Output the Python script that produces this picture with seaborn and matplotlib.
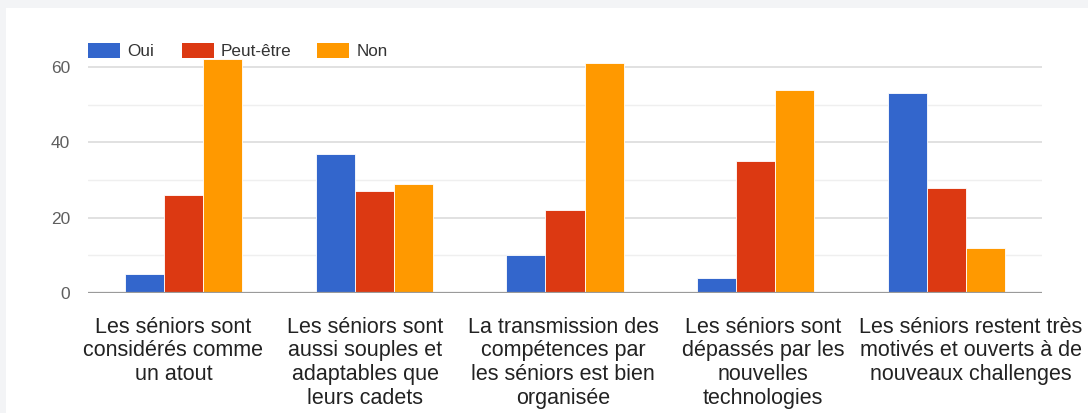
import numpy as np
import pandas as pd
import matplotlib
matplotlib.use("Agg")
import matplotlib.pyplot as plt
import matplotlib.transforms as mtransforms
import seaborn as sns
from matplotlib.patches import Rectangle

categories = [
    "Les séniors sont\nconsidérés comme\nun atout",
    "Les séniors sont\naussi souples et\nadaptables que\nleurs cadets",
    "La transmission des\ncompétences par\nles séniors est bien\norganisée",
    "Les séniors sont\ndépassés par les\nnouvelles\ntechnologies",
    "Les séniors restent très\nmotivés et ouverts à de\nnouveaux challenges",
]
series_names = ["Oui", "Peut-être", "Non"]
oui = [5, 37, 10, 4, 53]
peut_etre = [26, 27, 22, 35, 28]
non = [62, 29, 61, 54, 12]
colors = ["#3366cc", "#dc3912", "#ff9900"]
yticks = [0, 20, 40, 60]

rows = []
for name, vals in zip(series_names, [oui, peut_etre, non]):
    for c, v in zip(categories, vals):
        rows.append({"cat": c, "serie": name, "val": v})
df = pd.DataFrame(rows)

sns.set_theme(style="white")
plt.rcParams["font.family"] = ["Liberation Sans", "DejaVu Sans"]

W, H = 1088, 413
fig = plt.figure(figsize=(W / 100, H / 100), dpi=100)
fig.patch.set_facecolor("#f3f4f6")
fig.add_artist(Rectangle((6 / W, 0), 1 - 6 / W, (H - 8) / H, transform=fig.transFigure,
                         facecolor="white", edgecolor="none", zorder=0))

ax_left, ax_right = 88 / W, 1042 / W
y0_px = 293
px_per_unit = (293 - 67) / 60
ytop = 62.3
ax_bottom = (H - y0_px) / H
ax_height = ytop * px_per_unit / H
ax = fig.add_axes([ax_left, ax_bottom, ax_right - ax_left, ax_height])
ax.set_facecolor("none")

sns.barplot(data=df, x="cat", y="val", hue="serie", hue_order=series_names,
            palette=colors, width=0.615, saturation=1, ax=ax,
            edgecolor="white", linewidth=0.6, legend=False, zorder=3)

ax.set_ylim(0, ytop)
ax.set_xlim(-0.5, len(categories) - 0.5)
for v in [10, 30, 50]:
    ax.axhline(v, color="#efefef", linewidth=1.0, zorder=1)
for v in [20, 40, 60]:
    ax.axhline(v, color="#dcdcdc", linewidth=1.2, zorder=1)
ax.axhline(0, color="#9a9a9a", linewidth=1.6, zorder=4)

ax.set_yticks(yticks)
ax.set_yticklabels([str(t) for t in yticks], color="#5f5f5f", fontsize=12.5)
ax.tick_params(axis="y", length=0, pad=13)
ax.tick_params(axis="x", length=0, pad=17)
ax.set_xticks(range(len(categories)))
ax.set_xticklabels(categories, fontsize=15.5, color="#222222", linespacing=1.17, va="top")
ax.set_xlabel("")
ax.set_ylabel("")
for s in ax.spines.values():
    s.set_visible(False)

# horizontal shifts of the category labels (pixels), as laid out in the reference
label_shift_px = [-10, -9, -2, 7, 24]
for lab, dx in zip(ax.get_xticklabels(), label_shift_px):
    lab.set_transform(lab.get_transform() + mtransforms.ScaledTranslation(dx / 100, 0, fig.dpi_scale_trans))

# legend
leg_y = (H - 51) / H
leg_items = [(88, 127), (182, 221), (317, 357)]
for (bx, tx), name, col in zip(leg_items, series_names, colors):
    fig.add_artist(Rectangle((bx / W, (H - 58) / H), 32 / W, 15 / H, transform=fig.transFigure,
                             facecolor=col, edgecolor="none"))
    fig.text(tx / W, leg_y, name, fontsize=12.3, color="#333333", va="center", ha="left")

fig.savefig("out.png", dpi=100, facecolor=fig.get_facecolor())
